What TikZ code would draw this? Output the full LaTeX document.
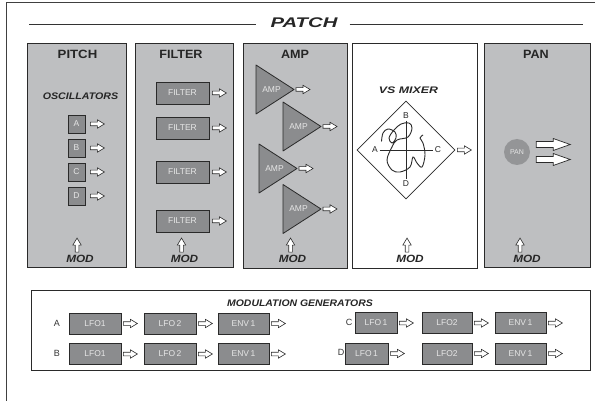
\documentclass[tikz,border=0pt]{standalone}
\usepackage{fontspec}
\setmainfont{Liberation Sans}
\usetikzlibrary{shapes.geometric}
\definecolor{panelgray}{HTML}{BEBFC1}
\definecolor{boxgray}{HTML}{8B8C8E}
\definecolor{edgec}{HTML}{2A2A2A}
\definecolor{boxtxt}{HTML}{E6E6E6}
\definecolor{pancirc}{HTML}{949597}
\newcommand\hwide[2][1.12]{\scalebox{#1}[1]{#2}}
\begin{document}
\begin{tikzpicture}[x=1pt,y=-1pt,
  panel/.style={draw=edgec,line width=1.1pt,fill=panelgray,anchor=north west,inner sep=0pt},
  ptitle/.style={font=\bfseries\fontsize{12}{12}\selectfont,text=black!85,inner sep=1pt},
  itl/.style={font=\bfseries\itshape\fontsize{9.5}{9.5}\selectfont,text=black!85,inner sep=1pt},
  modt/.style={font=\bfseries\itshape\fontsize{10.5}{10.5}\selectfont,text=black!85,inner sep=1pt},
  gbox/.style={draw=edgec,line width=0.8pt,fill=boxgray,text=boxtxt,font=\fontsize{8.5}{8.5}\selectfont,inner sep=0pt},
  lbl/.style={font=\fontsize{9}{9}\selectfont,text=black!80,inner sep=1pt},
  mixl/.style={font=\fontsize{8.5}{8.5}\selectfont,text=black!85,inner sep=1.5pt},
  harrow/.pic={\draw[draw=edgec,fill=white,line width=0.6pt] (0,-1.8) -- (7,-1.8) -- (7,-4.2) -- (14,0) -- (7,4.2) -- (7,1.8) -- (0,1.8) -- cycle;},
  uarrow/.pic={\draw[draw=edgec,fill=white,line width=0.6pt] (-1.8,0) -- (-1.8,-7) -- (-4.2,-7) -- (0,-14) -- (4.2,-7) -- (1.8,-7) -- (1.8,0) -- cycle;},
  barrow/.pic={\draw[draw=edgec,fill=white,line width=0.7pt] (0,-3) -- (17,-3) -- (17,-6) -- (34,0) -- (17,6) -- (17,3) -- (0,3) -- cycle;},
  amptri/.pic={\draw[draw=edgec,fill=boxgray,line width=0.8pt,line join=round] (0,-24.5) -- (38,0) -- (0,24.5) -- cycle;
     \node[text=boxtxt,font=\fontsize{8.5}{8.5}\selectfont,inner sep=0pt] (-t) at (15.5,0) {AMP};}
]
\useasboundingbox (0,0) rectangle (595,401);
% outer frame
\draw[line width=0.9pt,draw=black!75] (6,401) -- (6,2) -- (595,2);
% title
\node[font=\bfseries\itshape\fontsize{14}{14}\selectfont,text=black!85,inner sep=0pt] (patch) at (304,23) {\hwide[1.45]{PATCH}};
\coordinate (tl) at (29,24);
\coordinate (tr) at (583,24);
\draw[line width=0.9pt,draw=black!80] (tl) -- ([xshift=-14pt]patch.west |- tl);
\draw[line width=0.9pt,draw=black!80] ([xshift=12pt]patch.east |- tr) -- (tr);

% panels
\node[panel,minimum width=99pt,minimum height=224pt] (pitch) at (27,43) {};
\node[panel,minimum width=98pt,minimum height=224pt] (filter) at (135,43) {};
\node[panel,minimum width=104pt,minimum height=225pt] (amp) at (243,43) {};
\node[panel,minimum width=125pt,minimum height=225pt,fill=white] (vsmix) at (352,43) {};
\node[panel,minimum width=106pt,minimum height=224pt] (pan) at (484,43) {};

\node[ptitle] (pitchT) at (77.5,54.5) {\hwide[1.1]{PITCH}};
\node[ptitle] (filterT) at (181,54.5) {\hwide[1.05]{FILTER}};
\node[ptitle] (ampT) at (295,54.5) {\hwide[1.05]{AMP}};
\node[ptitle] (panT) at (536,54.5) {\hwide[1.05]{PAN}};

% PITCH
\node[itl] (oscT) at (80.5,96.5) {\hwide{OSCILLATORS}};
\foreach \n/\y in {A/124,B/148,C/172,D/196}{
  \node[gbox,minimum width=17pt,minimum height=18pt] (os\n) at (76.5,\y) {\n};
  \pic at ([xshift=5pt]os\n.east) {harrow};
}

% FILTER
\foreach \n/\y in {1/93,2/128,3/172,4/221}{
  \node[gbox,minimum width=53pt,minimum height=22pt] (fl\n) at (182.5,\y) {FILTER};
  \pic at ([xshift=3pt]fl\n.east) {harrow};
}

% AMP
\pic (amp1) at (256,89.5) {amptri};
\pic (amp2) at (283,126.5) {amptri};
\pic (amp3) at (259,168.5) {amptri};
\pic (amp4) at (283,209) {amptri};
\coordinate (ao1) at (296,89.5);
\coordinate (ao2) at (323,126.5);
\coordinate (ao3) at (299,168.5);
\coordinate (ao4) at (323,209);
\foreach \i in {1,2,3,4}{\pic at (ao\i) {harrow};}

% VS MIXER
\node[itl] (vsT) at (408.5,90) {\hwide[1.3]{VS MIXER}};
\node[diamond,draw=edgec,line width=0.8pt,minimum width=98pt,minimum height=98pt,inner sep=0pt] (mix) at (406,150) {};
\node[mixl] (lA) at (375,150) {A};
\node[mixl] (lC) at (438,150) {C};
\node[mixl] (lB) at (406,116) {B};
\node[mixl] (lD) at (406,183.5) {D};
\draw[line width=0.8pt,draw=edgec] (lA) -- (lC);
\draw[line width=0.8pt,draw=edgec] (lB) -- (lD);
\draw[line width=0.9pt,draw=edgec] plot[smooth,tension=0.6] coordinates {
 (381.5,141.5) (383,133) (388,129) (395,132) (396,138) (392,143) (389,138) (394,130)
 (401,124) (409,123) (412,128) (408,137) (397,140) (392,147) (387,160) (392,170)
 (400,172) (410,167) (413,157) (417,163) (422,167) (425,155) (423,143) (420,138) (423,135)};
\pic at ([xshift=2pt]mix.east) {harrow};

% PAN
\node[circle,fill=pancirc,minimum size=26pt,inner sep=0pt,text=boxtxt,font=\fontsize{7}{7}\selectfont] (panc) at (517,152) {PAN};
\pic at ([xshift=6pt,yshift=7.5pt]panc.east) {barrow};
\pic at ([xshift=6pt,yshift=-7.5pt]panc.east) {barrow};

% MOD inputs
\node[modt] (modP) at (80,258.5) {\hwide{MOD}};
\node[modt] (modF) at (184.5,258.5) {\hwide{MOD}};
\node[modt] (modA) at (292.5,258.5) {\hwide{MOD}};
\node[modt] (modV) at (410,258.5) {\hwide{MOD}};
\node[modt] (modN) at (527,258.5) {\hwide{MOD}};
\pic at ([xshift=-3pt,yshift=1.5pt]modP.north) {uarrow};
\pic at ([xshift=-3pt,yshift=1.5pt]modF.north) {uarrow};
\pic at ([xshift=-2pt,yshift=1.5pt]modA.north) {uarrow};
\pic at ([xshift=-3pt,yshift=1.5pt]modV.north) {uarrow};
\pic at ([xshift=-7pt,yshift=1.5pt]modN.north) {uarrow};

% Modulation generators
\node[draw=edgec,line width=0.8pt,anchor=north west,minimum width=559pt,minimum height=80pt,inner sep=0pt] (modbox) at (31,290) {};
\node[itl] (modT) at (300,303) {\hwide[1.1]{MODULATION GENERATORS}};

\node[lbl] (labA) at (57,323.5) {A};
\node[gbox,minimum width=52pt,minimum height=21pt] (a1) at (95,323.5) {LFO1};
\node[gbox,minimum width=52pt,minimum height=21pt] (a2) at (170,323.5) {LFO\,2};
\node[gbox,minimum width=51pt,minimum height=21pt] (a3) at (243.5,323.5) {ENV\,1};

\node[lbl] (labB) at (57,353) {B};
\node[gbox,minimum width=52pt,minimum height=21pt] (b1) at (95,354) {LFO1};
\node[gbox,minimum width=52pt,minimum height=21pt] (b2) at (170,354) {LFO\,2};
\node[gbox,minimum width=51pt,minimum height=21pt] (b3) at (243.5,354) {ENV\,1};

\node[lbl] (labC) at (349,322.5) {C};
\node[gbox,minimum width=42pt,minimum height=21pt] (c1) at (376,323) {LFO\,1};
\node[gbox,minimum width=50pt,minimum height=21pt] (c2) at (447,323) {LFO2};
\node[gbox,minimum width=51pt,minimum height=21pt] (c3) at (520.5,323) {ENV\,1};

\node[lbl] (labD) at (341,352.5) {D};
\node[gbox,minimum width=43pt,minimum height=21pt] (d1) at (366.5,353.5) {LFO\,1};
\node[gbox,minimum width=50pt,minimum height=21pt] (d2) at (447,353.5) {LFO2};
\node[gbox,minimum width=51pt,minimum height=21pt] (d3) at (520.5,353.5) {ENV\,1};

\foreach \r in {a,b,c,d}{
  \foreach \k in {1,2,3}{
    \pic at ([xshift=2pt]\r\k.east) {harrow};
  }
}
\end{tikzpicture}
\end{document}
